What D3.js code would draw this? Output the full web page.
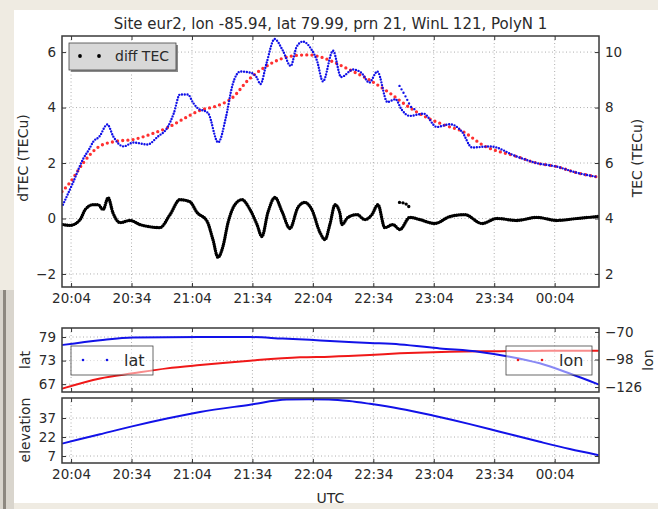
<!DOCTYPE html>
<html>
<head>
<meta charset="utf-8">
<script src="https://cdn.jsdelivr.net/npm/d3@7"></script>
<style>
  body { margin: 0; background: #efebe2; }
  text { font-family: "DejaVu Sans", sans-serif; fill: #2a2a2a; }
</style>
</head>
<body>
<script>
// time axis: minutes after 20:04 UTC
const tickLabels = ['20:04', '20:34', '21:04', '21:34', '22:04', '22:34', '23:04', '23:34', '00:04'];
const xLimits = [-4.5, 262];

const dtecTicks = [-2, 0, 2, 4, 6];
const tecTicks = [2, 4, 6, 8, 10];
const latTicks = [67, 73, 79];
const lonTicks = [-126, -98, -70];
const elevTicks = [7, 22, 37];

// TEC (TECu), blue dots
const tecMin = [-4, 1, 6, 9, 11, 14, 18, 21, 26, 31, 38, 43, 48, 51, 54, 58, 60.5, 62.5, 68, 73, 77, 80, 84, 89, 92, 94, 97, 101, 105, 109, 112, 115, 119.5, 122, 125, 130, 134, 140, 144, 148, 152, 157, 161, 164, 168, 175, 181.5, 188, 194, 199, 208, 221, 231, 241, 251, 261];
const tecVal = [4.5, 5.3, 6.15, 6.5, 6.77, 6.95, 7.39, 6.95, 6.6, 6.74, 6.67, 6.95, 7.3, 7.8, 8.47, 8.47, 8.18, 8.0, 7.8, 6.74, 7.7, 8.78, 9.3, 9.26, 9.1, 8.85, 9.6, 10.47, 10.07, 9.5, 10.2, 10.38, 10.07, 9.7, 8.94, 10.05, 9.1, 9.37, 9.26, 8.9, 9.3, 8.2, 8.3, 7.93, 7.7, 7.78, 7.3, 7.4, 7.13, 6.56, 6.6, 6.24, 6.0, 5.87, 5.65, 5.5];
// second track of TEC samples around 22:47
const tecAltMin = [163, 166, 169, 171];
const tecAltVal = [8.78, 8.4, 8.0, 7.93];

// fitted TEC (TECu), red dots
const fitMin = [-4.5, -0.5, 6, 14, 22, 31, 40, 48, 56, 64, 72, 80, 88, 96, 104, 112, 118, 124, 130, 138, 148, 158, 168, 176, 186, 194, 205, 221, 231, 241, 251, 261];
const fitVal = [4.97, 5.3, 6.0, 6.6, 6.78, 6.85, 7.05, 7.28, 7.6, 7.9, 8.05, 8.35, 9.0, 9.45, 9.75, 9.88, 9.9, 9.82, 9.65, 9.37, 9.0, 8.53, 8.0, 7.66, 7.35, 7.15, 6.62, 6.24, 6.0, 5.87, 5.65, 5.5];

// diff TEC (TECu), black dots
const diffMin = [-4, -0.5, 4.5, 7, 11, 13.4, 15.9, 18.4, 20.8, 24.3, 29.3, 34.2, 39.2, 44.1, 49.1, 54, 59, 62.5, 67.5, 70.4, 72.9, 75.4, 77.9, 81.3, 84.8, 88.8, 92.3, 94.7, 97.7, 101.2, 104.7, 108.6, 112.6, 116, 119.5, 123.5, 126, 128.5, 131, 133.4, 134.4, 137.4, 141.9, 145.8, 149.3, 152.3, 155.7, 159.7, 163.2, 168.1, 173.1, 180.5, 188, 195.4, 203.9, 211.3, 221.2, 231.1, 241, 251, 261.4];
const diffVal = [-0.22, -0.25, -0.04, 0.32, 0.5, 0.5, 0.32, 0.75, 0.2, -0.15, -0.07, -0.22, -0.3, -0.33, 0.14, 0.68, 0.6, 0.22, -0.1, -0.76, -1.4, -1.0, -0.15, 0.5, 0.68, 0.32, -0.22, -0.65, 0.22, 0.76, 0.25, -0.36, 0.4, 0.58, 0.32, -0.5, -0.76, -0.2, 0.5, 0.2, -0.22, 0.04, 0.14, -0.04, 0.14, 0.5, -0.33, -0.22, -0.4, 0.04, -0.04, -0.18, 0.07, 0.14, -0.18, 0.0, -0.07, 0.04, -0.07, 0.0, 0.07];
const diffAltMin = [163, 165.5, 168];
const diffAltVal = [0.58, 0.55, 0.4];

// latitude (blue) and longitude (red) of the pierce point
const latMin = [-4, 14.4, 30.8, 64, 88.8, 105, 118.5, 128.5, 148.3, 163.2, 183, 202.9, 217.7, 232.6, 247.5, 261.4];
const latVal = [77.0, 78.2, 78.9, 79.0, 79.0, 78.6, 78.3, 78.0, 77.5, 77.1, 76.1, 75.2, 74.0, 72.3, 69.7, 67.0];
const lonMin = [-4, 14.4, 30.8, 47.6, 64, 88.8, 113.6, 128.5, 148.3, 163.2, 188, 212.8, 237.6, 261.4];
const lonVal = [-127.3, -117.2, -112, -107, -103.6, -99.2, -95.8, -95.1, -93.4, -91.7, -90, -89.5, -89, -89];

// satellite elevation (deg)
const elevMin = [-4, 14.4, 30.8, 47.6, 64, 88.8, 107, 118, 128, 138, 148.3, 163.2, 179.5, 197.9, 212.8, 232.6, 247.5, 261.4];
const elevVal = [17, 24.2, 30.6, 36.6, 41.8, 47.5, 51.6, 51.8, 51.6, 50.4, 48.2, 44.4, 39, 32.2, 26.2, 18.2, 12.5, 7.8];

const W = 658, H = 509;
const L = 62, R = 599;
const top1 = 36, bot1 = 287;
const top2 = 328, bot2 = 392;
const top3 = 398, bot3 = 463;

const t0 = Date.UTC(2013, 0, 1, 20, 4);
const toDate = m => new Date(t0 + m * 60000);
const tickDates = tickLabels.map(s => {
    const [h, mm] = s.split(':').map(Number);
    return new Date(Date.UTC(2013, 0, h < 12 ? 2 : 1, h, mm));
});

const svg = d3.select('body')
    .append('svg')
    .attr('width', W)
    .attr('height', H);

// paper background
svg.append('rect').attr('width', W).attr('height', H).attr('fill', '#efebe2');
svg.append('rect').attr('x', 0).attr('y', 290).attr('width', 14).attr('height', H - 290).attr('fill', '#d9d5cd');
svg.append('rect').attr('x', 3).attr('y', 290).attr('width', 3).attr('height', H - 290).attr('fill', '#8d8880');
svg.append('rect').attr('x', 14).attr('y', 10).attr('width', W - 14).attr('height', 493).attr('fill', '#fff');

const x = d3.scaleUtc().domain(xLimits.map(toDate)).range([L, R]);
const yDiff = d3.scaleLinear().domain([-2.47, 6.58]).range([bot1, top1]);
const yTec = d3.scaleLinear().domain([1.53, 10.58]).range([bot1, top1]);
const yLat = d3.scaleLinear().domain([65, 81.3]).range([bot2, top2]);
const yLon = d3.scaleLinear().domain([-131, -66]).range([bot2, top2]);
const yElev = d3.scaleLinear().domain([1.5, 52.8]).range([bot3, top3]);

const fmt = d3.utcFormat('%H:%M');

// clip paths for each panel
const defs = svg.append('defs');
[[top1, bot1], [top2, bot2], [top3, bot3]].forEach(([a, b], i) => {
    defs.append('clipPath').attr('id', 'clip' + i)
        .append('rect').attr('x', L).attr('y', a).attr('width', R - L).attr('height', b - a);
});

const grid = (a, b, yScale, yTicks) => {
    const g = svg.append('g')
        .attr('stroke', '#9a9a9a')
        .attr('stroke-width', 0.8)
        .attr('stroke-dasharray', '1 2.5');
    g.selectAll('line.v').data(tickDates).enter().append('line')
        .attr('x1', d => x(d)).attr('x2', d => x(d))
        .attr('y1', a).attr('y2', b);
    g.selectAll('line.h').data(yTicks).enter().append('line')
        .attr('x1', L).attr('x2', R)
        .attr('y1', d => yScale(d)).attr('y2', d => yScale(d));
};

const styleAxis = g => {
    g.select('.domain').remove();
    g.selectAll('line').attr('stroke', '#333').attr('stroke-width', 1);
    g.selectAll('text').attr('font-size', 13.5).attr('fill', '#2a2a2a')
        .attr('font-family', '"DejaVu Sans", sans-serif');
};

const axes = (a, b, yLeft, leftTicks, yRight, rightTicks, showX) => {
    svg.append('g').attr('transform', `translate(0,${b})`)
        .call(d3.axisBottom(x).tickValues(tickDates).tickFormat(showX ? fmt : '').tickSize(-4).tickPadding(6))
        .call(styleAxis);
    svg.append('g').attr('transform', `translate(0,${a})`)
        .call(d3.axisTop(x).tickValues(tickDates).tickFormat('').tickSize(-4))
        .call(styleAxis);
    svg.append('g').attr('transform', `translate(${L},0)`)
        .call(d3.axisLeft(yLeft).tickValues(leftTicks).tickSize(-4).tickPadding(6))
        .call(styleAxis);
    const rAx = d3.axisRight(yRight || yLeft).tickValues(rightTicks || leftTicks).tickSize(-4).tickPadding(6);
    if (!yRight) rAx.tickFormat('');
    svg.append('g').attr('transform', `translate(${R},0)`)
        .call(rAx)
        .call(styleAxis);
    svg.append('rect')
        .attr('x', L).attr('y', a).attr('width', R - L).attr('height', b - a)
        .attr('fill', 'none').attr('stroke', '#3a3a3a').attr('stroke-width', 1.5);
};

const series = (clip, ms, vs, yScale, color, width, dash) => {
    const line = d3.line()
        .x(d => x(toDate(d[0])))
        .y(d => yScale(d[1]))
        .curve(d3.curveMonotoneX);
    const p = svg.append('path')
        .datum(d3.zip(ms, vs))
        .attr('clip-path', `url(#clip${clip})`)
        .attr('d', line)
        .attr('fill', 'none')
        .attr('stroke', color)
        .attr('stroke-width', width)
        .attr('stroke-linecap', 'round')
        .attr('stroke-linejoin', 'round');
    if (dash) p.attr('stroke-dasharray', dash);
    return p;
};

// ---- top panel
grid(top1, bot1, yDiff, dtecTicks);
series(0, diffMin, diffVal, yDiff, '#000', 3.4, '0 2.2');
series(0, diffAltMin, diffAltVal, yDiff, '#000', 3.4, '0 3.5');
series(0, fitMin, fitVal, yTec, '#ff3030', 3.3, '0 5.2');
series(0, tecMin, tecVal, yTec, '#1010e8', 2.4, '0 2.8');
series(0, tecAltMin, tecAltVal, yTec, '#1010e8', 2.4, '0 4');
axes(top1, bot1, yDiff, dtecTicks, yTec, tecTicks, true);

// legend: diff TEC
svg.append('rect').attr('x', 71).attr('y', 45).attr('width', 107).attr('height', 27).attr('fill', '#8a8a8a');
svg.append('rect').attr('x', 69).attr('y', 43).attr('width', 107).attr('height', 27)
    .attr('fill', '#d8d8d8').attr('stroke', '#444').attr('stroke-width', 0.8);
svg.selectAll('circle.leg1').data([80, 99]).enter().append('circle')
    .attr('cx', d => d).attr('cy', 56).attr('r', 1.9).attr('fill', '#000');
svg.append('text').attr('x', 115).attr('y', 61).attr('font-size', 14).text('diff TEC');

// ---- middle panel
grid(top2, bot2, yLat, latTicks);
series(1, lonMin, lonVal, yLon, '#f01818', 2, null);
series(1, latMin, latVal, yLat, '#1212e8', 2, null);
axes(top2, bot2, yLat, latTicks, yLon, lonTicks, false);

const legend = (x0, w, color, label) => {
    svg.append('rect').attr('x', x0).attr('y', 346).attr('width', w).attr('height', 29)
        .attr('fill', '#fff').attr('fill-opacity', 0.5)
        .attr('stroke', '#444').attr('stroke-width', 0.8);
    svg.selectAll(null).data([x0 + 12, x0 + 36]).enter().append('circle')
        .attr('cx', d => d).attr('cy', 360).attr('r', 1.3).attr('fill', color);
    svg.append('text').attr('x', x0 + 53).attr('y', 366).attr('font-size', 16).text(label);
};
legend(71, 82, '#1212e8', 'lat');
legend(506, 86, '#f01818', 'lon');

// ---- bottom panel
grid(top3, bot3, yElev, elevTicks);
series(2, elevMin, elevVal, yElev, '#1212e8', 2, null);
axes(top3, bot3, yElev, elevTicks, null, null, true);

// ---- labels
svg.append('text').attr('x', (L + R) / 2).attr('y', 29).attr('text-anchor', 'middle')
    .attr('font-size', 15).text('Site eur2, lon -85.94, lat 79.99, prn 21, WinL 121, PolyN 1');
const ylab = (xx, yy, s) => svg.append('text')
    .attr('transform', `translate(${xx},${yy}) rotate(-90)`)
    .attr('text-anchor', 'middle').attr('font-size', 14).text(s);
ylab(28, 158, 'dTEC (TECu)');
ylab(642, 158, 'TEC (TECu)');
ylab(30, 360, 'lat');
ylab(653, 360, 'lon');
ylab(30, 430, 'elevation');
svg.append('text').attr('x', (L + R) / 2).attr('y', 503).attr('text-anchor', 'middle')
    .attr('font-size', 14).text('UTC');
</script>
</body>
</html>
